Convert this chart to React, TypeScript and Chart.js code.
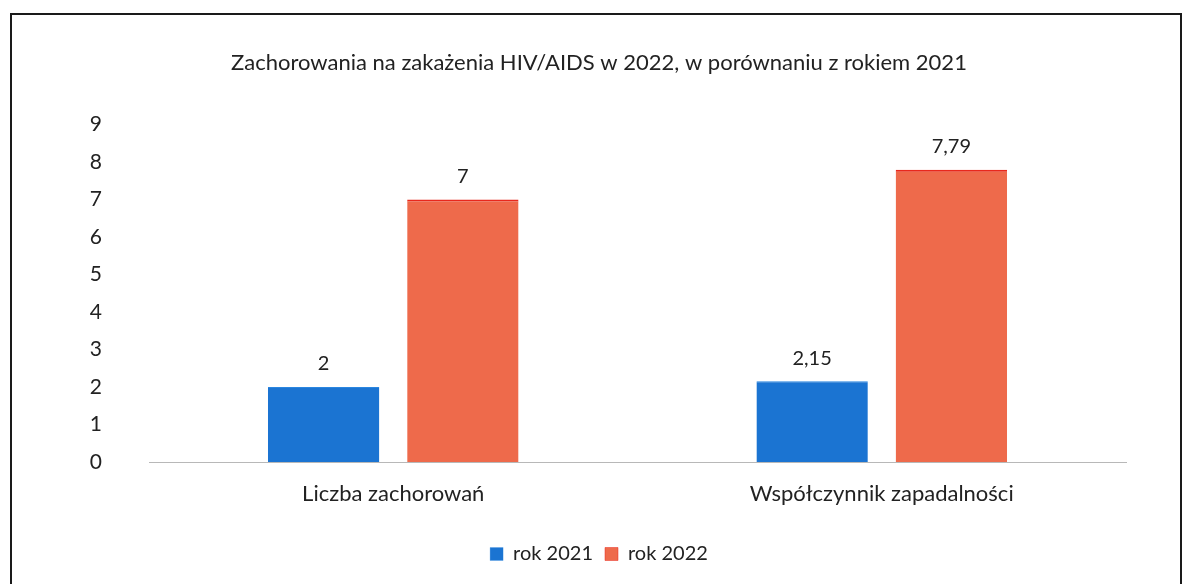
import React, { useEffect, useRef } from "react";
import { Chart, registerables } from "chart.js";

Chart.register(...registerables);

const categories = ["Liczba zachorowań", "Współczynnik zapadalności"];
const series2021 = [2, 2.15];
const series2022 = [7, 7.79];
const seriesNames = ["rok 2021", "rok 2022"];
const yTicks = [0, 1, 2, 3, 4, 5, 6, 7, 8, 9];
const titleText = "Zachorowania na zakażenia HIV/AIDS w 2022, w porównaniu z rokiem 2021";

const FONT = "Lato, 'Open Sans', sans-serif";

const valueLabels = {
  id: "valueLabels",
  afterDatasetsDraw(chart: any) {
    const ctx = chart.ctx;
    ctx.save();
    ctx.font = `20px ${FONT}`;
    ctx.fillStyle = "#222";
    ctx.textAlign = "center";
    ctx.textBaseline = "middle";
    chart.data.datasets.forEach((ds: any, di: number) => {
      const meta = chart.getDatasetMeta(di);
      meta.data.forEach((bar: any, i: number) => {
        const v = ds.data[i];
        ctx.fillText(String(v).replace(".", ","), bar.x, bar.y - 23);
      });
    });
    ctx.restore();
  },
};

export default function App() {
  const ref = useRef<HTMLCanvasElement | null>(null);
  useEffect(() => {
    if (!ref.current) return;
    const chart = new Chart(ref.current, {
      type: "bar",
      data: {
        labels: categories,
        datasets: [
          {
            label: seriesNames[0],
            data: series2021,
            backgroundColor: "#1b74d2",
            borderColor: "#2a86e0",
            borderWidth: { top: 1, left: 0, right: 0, bottom: 0 },
            borderSkipped: "bottom",
          },
          {
            label: seriesNames[1],
            data: series2022,
            backgroundColor: "#ee6a4b",
            borderColor: "#e8281c",
            borderWidth: { top: 2, left: 0, right: 0, bottom: 0 },
            borderSkipped: "bottom",
          },
        ],
      },
      plugins: [valueLabels],
      options: {
        responsive: false,
        animation: false,
        maintainAspectRatio: false,
        layout: { padding: { left: 60, right: 54, top: 26, bottom: 11 } },
        datasets: {
          bar: { categoryPercentage: 0.57, barPercentage: 0.8 },
        },
        scales: {
          x: {
            grid: { display: false, drawTicks: false },
            border: { display: true, color: "#b8b8b8", width: 1 },
            ticks: {
              font: { family: FONT, size: 22 },
              color: "#222",
              padding: 19,
            },
            afterFit: (s: any) => {
              s.height = 70;
            },
          },
          y: {
            min: 0,
            max: 9,
            afterBuildTicks: (s: any) => {
              s.ticks = yTicks.map((v) => ({ value: v }));
            },
            grid: { display: false, drawTicks: false },
            border: { display: false },
            ticks: {
              font: { family: FONT, size: 21 },
              color: "#222",
              padding: 47,
            },
            afterFit: (s: any) => {
              s.width = 77;
            },
          },
        },
        plugins: {
          title: {
            display: true,
            text: titleText,
            font: { family: FONT, size: 22, weight: "normal" },
            color: "#222",
            padding: { top: 9, bottom: 48 },
          },
          legend: {
            position: "bottom",
            labels: {
              font: { family: FONT, size: 20 },
              color: "#222",
              boxWidth: 13,
              boxHeight: 13,
              padding: 12,
            },
          },
          tooltip: { enabled: false },
        },
      },
    });
    return () => chart.destroy();
  }, []);

  return (
    <div
      style={{
        position: "fixed",
        left: 10,
        top: 13,
        width: 1168,
        height: 600,
        border: "2px solid #1a1a1a",
        background: "#fff",
      }}
    >
      <canvas ref={ref} width={1168} height={570} style={{ display: "block" }} />
    </div>
  );
}
